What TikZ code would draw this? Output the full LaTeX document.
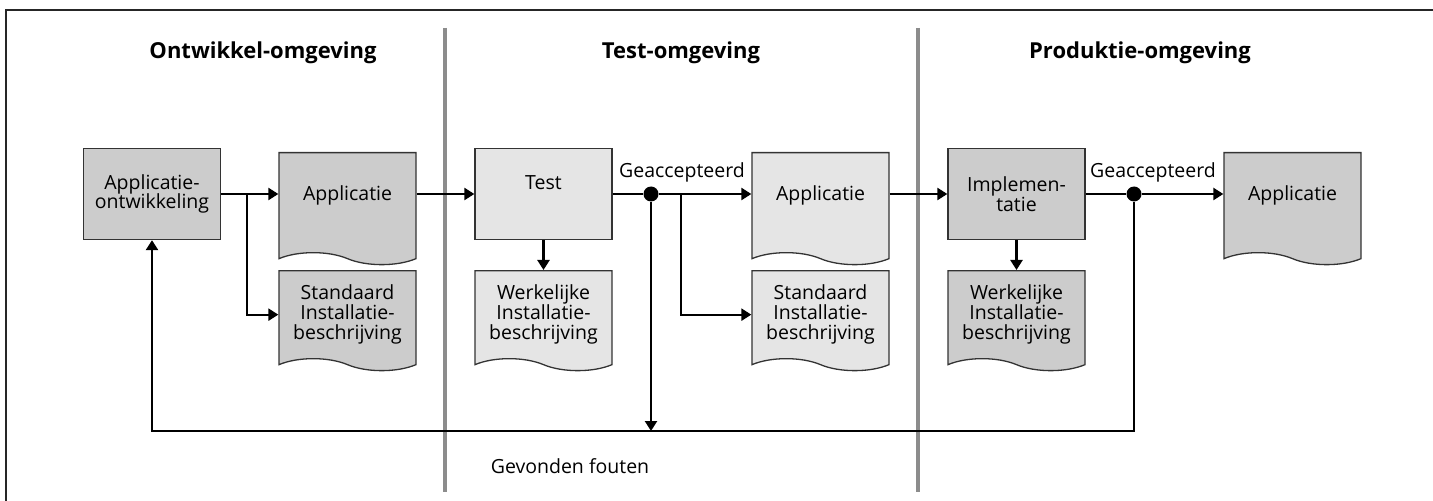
\documentclass[tikz,border=0pt]{standalone}
\usepackage{fontspec}
\setmainfont{Open Sans}
\usetikzlibrary{arrows.meta,shapes.symbols}

\colorlet{darkShade}{black!20}
\colorlet{lightShade}{black!10}

\begin{document}
\begin{tikzpicture}
[x=1bp,y=-1bp,
  every node/.style={font=\fontsize{19.5bp}{19.8bp}\selectfont,align=center},
  procBox/.style={shape=rectangle,draw=black!80,line width=1.3bp,
    minimum width=137bp,minimum height=91bp,inner sep=0pt},
  docShape/.style={shape=tape,tape bend top=none,tape bend bottom=out and in,
    tape bend height=12bp,draw=black!80,line width=1.3bp,
    minimum width=137bp,minimum height=100bp,inner sep=0pt,anchor=north},
  topDoc/.style={text height=48bp,text depth=52bp},
  flowLine/.style={line width=2.3bp,-{Triangle[length=10bp,width=12bp]}},
  plainLine/.style={line width=2.3bp},
  acceptDot/.style={shape=circle,fill=black,inner sep=0pt,minimum size=15bp},
  dividerLine/.style={line width=4.5bp,color=black!45},
  frameLine/.style={line width=2bp,color=black!85},
  headText/.style={font=\fontsize{22bp}{22bp}\selectfont\bfseries}]
\useasboundingbox (0,0) rectangle (1433,501);
%% frame and the borders between the environments
\draw[frameLine] (5.5,501) -- (5.5,10.5) -- (1433,10.5);
\foreach \x in {445,918}
{
  \draw[dividerLine] (\x,28) -- (\x,492);
}
%% environment headings
\foreach \nodename/\x/\txt in {headdev/263/Ontwikkel-omgeving,
  headtest/681/Test-omgeving, headprod/1140/Produktie-omgeving}
{
  \node (\nodename) at (\x,53) [headText] {\txt};
}
%% process steps
\node (ontw) at (152,194) [procBox,fill=darkShade] {Applicatie-\\ontwikkeling};
\node (test) at (543.5,194) [procBox,fill=lightShade,text height=41bp,text depth=50bp] {Test};
\node (impl) at (1016.5,194) [procBox,fill=darkShade] {Implemen-\\tatie};
%% documents
\foreach \nodename/\x/\shade in {appdev/347.5/darkShade,
  apptest/820.5/lightShade, appprod/1292.5/darkShade}
{
  \node (\nodename) at (\x,152) [docShape,topDoc,fill=\shade] {Applicatie};
}
\foreach \nodename/\x/\shade/\txt in {
  stddev/347.5/darkShade/{Standaard\\Installatie-\\beschrijving},
  werktest/543.5/lightShade/{Werkelijke\\Installatie-\\beschrijving},
  stdtest/820.5/lightShade/{Standaard\\Installatie-\\beschrijving},
  werkprod/1016.5/darkShade/{Werkelijke\\Installatie-\\beschrijving}}
{
  \node (\nodename) at (\x,270) [docShape,fill=\shade] {\txt};
}
%% acceptance points
\node (acctest) at (651,194) [acceptDot] {};
\node (accprod) at (1134,194) [acceptDot] {};
\node (acclabtest) at (682,172) {Geaccepteerd};
\node (acclabprod) at (1153,172) {Geaccepteerd};
\node (gevfout) at (570,466) {Gevonden fouten};
\coordinate (splitdev) at (247,194);
\coordinate (splittest) at (681,194);
\coordinate (fbline) at (0,431);
%% flow
\draw[flowLine] (ontw.east) -- (ontw.east -| appdev.west);
\draw[flowLine] (splitdev) |- (stddev.west);
\draw[flowLine] (ontw.east -| appdev.east) -- (test.west);
\draw[plainLine] (test.east) -- (acctest);
\draw[flowLine] (acctest) -- (acctest -| apptest.west);
\draw[flowLine] (splittest) |- (stdtest.west);
\draw[flowLine] (test.south) -- (werktest.north);
\draw[flowLine] (acctest) -- (acctest |- fbline);
\draw[flowLine] (test.east -| apptest.east) -- (impl.west);
\draw[plainLine] (impl.east) -- (accprod);
\draw[flowLine] (accprod) -- (accprod -| appprod.west);
\draw[flowLine] (impl.south) -- (werkprod.north);
%% errors found go back to development
\draw[flowLine] (accprod) |- (fbline -| ontw.south) -- (ontw.south);
\end{tikzpicture}
\end{document}
